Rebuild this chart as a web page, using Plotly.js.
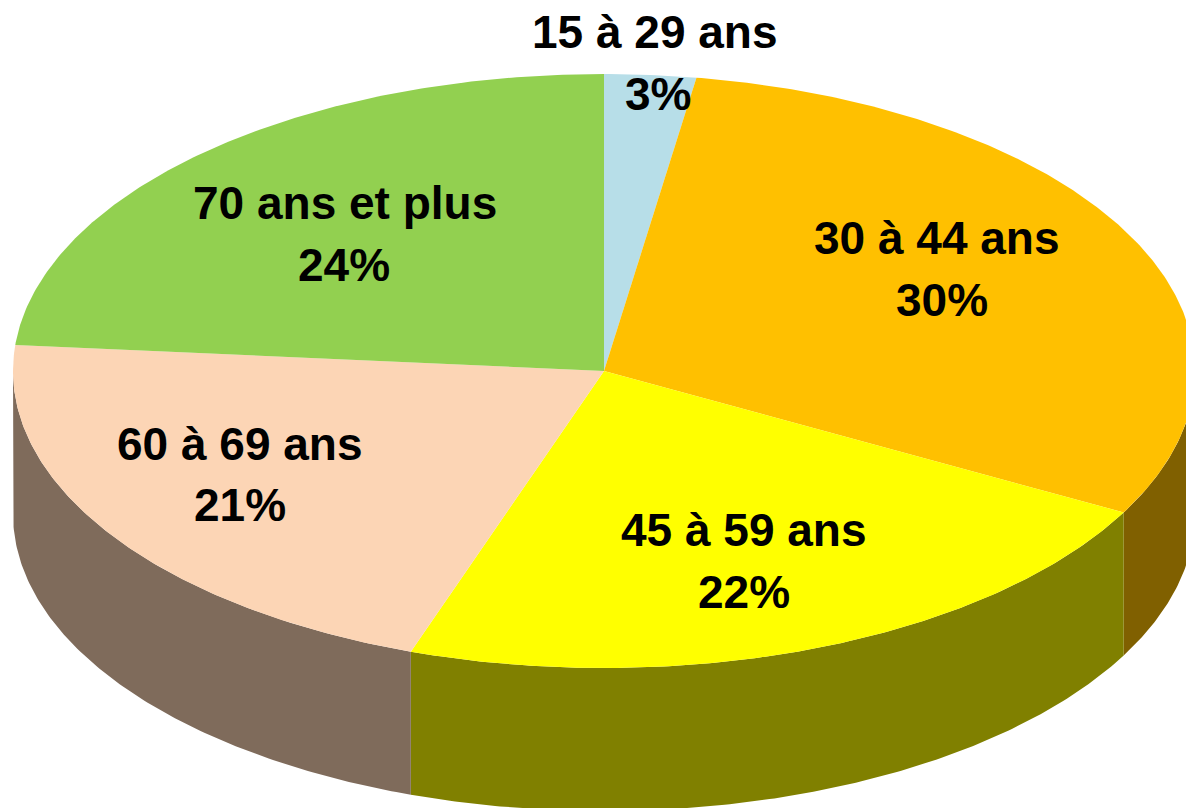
<!DOCTYPE html>
<html>
<head>
<meta charset="utf-8">
<script src="https://cdn.plot.ly/plotly-3.0.1.min.js"></script>
<style>html,body{margin:0;padding:0;background:#fff;overflow:hidden}#chart{width:1186px;height:808px}</style>
</head>
<body>
<div id="chart"></div>
<script>
// Data
var categories = ["15 à 29 ans", "30 à 44 ans", "45 à 59 ans", "60 à 69 ans", "70 ans et plus"];
var shares = [2.5, 30.4, 22.4, 21.1, 23.6];
var percentLabels = ["3%", "30%", "22%", "21%", "24%"];
// Styles
var topColors = ["#B7DEE8", "#FFC000", "#FFFF00", "#FCD5B5", "#92D050"];
var sideColors = ["#5C6F74", "#806000", "#808000", "#7F6B5B", "#496828"];
var labelX = [654.5, 936.5, 744, 240, 345];
var nameY = [32, 238, 530, 444, 203];
var pctX = [658, 942, 744, 240, 344];
var pctY = [94, 300, 592, 505, 265];
// Geometry of the tilted disc, in axis units
var cx = 604, cy = 371, rx = 591, ry = 297, depth = 143;
var FONT = "Liberation Sans, Arial, sans-serif", FONT_SIZE = 46;

function pt(a, dz) {
  var t = a * Math.PI / 180;
  return [cx + rx * Math.sin(t), cy - ry * Math.cos(t) + (dz || 0)];
}
function arc(a0, a1, dz) {
  var out = [], n = Math.max(2, Math.ceil(Math.abs(a1 - a0) * 2));
  for (var i = 0; i <= n; i++) out.push(pt(a0 + (a1 - a0) * i / n, dz));
  return out;
}
function poly(points, color, name) {
  return {
    type: "scatter", mode: "lines", fill: "toself", fillcolor: color,
    x: points.map(function (p) { return p[0]; }),
    y: points.map(function (p) { return p[1]; }),
    line: { width: 0, color: color }, hoverinfo: "skip", name: name, showlegend: false
  };
}

var total = shares.reduce(function (s, v) { return s + v; }, 0);
var sides = [], tops = [], start = 0;
categories.forEach(function (c, i) {
  var a0 = start / total * 360, a1 = (start + shares[i]) / total * 360;
  start += shares[i];
  var s0 = Math.max(a0, 90), s1 = Math.min(a1, 270);
  if (s1 > s0) {
    sides.push(poly(arc(s0, s1, 0).concat(arc(s1, s0, depth)), sideColors[i], c + " (côté)"));
  }
  tops.push(poly([[cx, cy]].concat(arc(a0, a1, 0)).concat([[cx, cy]]), topColors[i], c));
});

var annotations = [];
categories.forEach(function (c, i) {
  [[c, labelX[i], nameY[i]], [percentLabels[i], pctX[i], pctY[i]]].forEach(function (l) {
    annotations.push({
      text: l[0], x: l[1], y: l[2], xref: "x", yref: "y",
      xanchor: "center", yanchor: "middle", showarrow: false,
      font: { family: FONT, size: FONT_SIZE, color: "#000", weight: 700 }
    });
  });
});

Plotly.newPlot("chart", sides.concat(tops), {
  width: 1186, height: 808,
  margin: { l: 0, r: 0, t: 0, b: 0 },
  paper_bgcolor: "#fff", plot_bgcolor: "#fff",
  showlegend: false,
  xaxis: { range: [0, 1186], visible: false, fixedrange: true },
  yaxis: { range: [808, 0], visible: false, fixedrange: true },
  annotations: annotations
}, { displayModeBar: false, staticPlot: true });
</script>
</body>
</html>
